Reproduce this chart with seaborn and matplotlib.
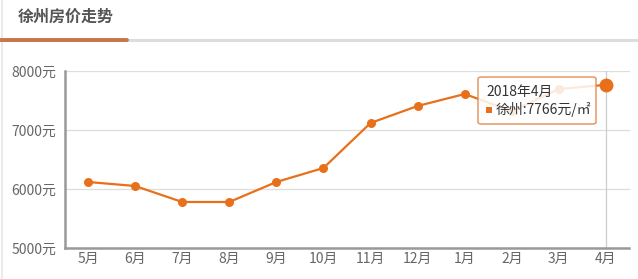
import matplotlib
matplotlib.use("Agg")
import matplotlib.pyplot as plt
import seaborn as sns
import pandas as pd
from matplotlib.patches import FancyBboxPatch, Rectangle
from matplotlib.lines import Line2D

months = ["5月", "6月", "7月", "8月", "9月", "10月", "11月", "12月", "1月", "2月", "3月", "4月"]
prices = [6119, 6051, 5780, 5780, 6119, 6356, 7119, 7407, 7610, 7320, 7695, 7766]
y_ticks = [5000, 6000, 7000, 8000]
y_labels = ["5000元", "6000元", "7000元", "8000元"]
title = "徐州房价走势"
tip_title = "2018年4月"
tip_text = "徐州:7766元/㎡"

sns.set_style("white")
plt.rcParams["font.family"] = ["Noto Sans CJK SC", "DejaVu Sans"]

W, H = 638, 279
fig = plt.figure(figsize=(W / 100, H / 100), dpi=100)
fig.patch.set_facecolor("white")

def fx(px):
    return px / W

def fy(py):
    return 1 - py / H

# frame / header decorations
fig.add_artist(Line2D([fx(1.5), fx(1.5)], [0, 1], color="#e6e6e6", lw=1.2))
fig.add_artist(Line2D([0, 1], [fy(40), fy(40)], color="#dddddd", lw=2.2))
fig.add_artist(Line2D([0, fx(127)], [fy(40), fy(40)], color="#c8754a", lw=2.8))
fig.text(fx(18), fy(17), title, fontsize=11.5, fontweight="bold", color="#555555",
         va="center", ha="left")

ax = fig.add_axes([fx(64.5), fy(248), fx(629.5 - 64.5), (248 - 71) / H])
df = pd.DataFrame({"month": months, "price": prices})
orange = "#e8701a"
sns.lineplot(data=df, x="month", y="price", ax=ax, color=orange, lw=1.6,
             marker="o", markersize=6.5, markeredgewidth=0, sort=False)
ax.plot([len(months) - 1], [prices[-1]], "o", color=orange, markersize=10, markeredgewidth=0, zorder=5)

ax.set_xlim(-0.5, len(months) - 0.5)
ax.set_ylim(5000, 8000)
ax.set_yticks(y_ticks)
ax.set_yticklabels(y_labels)
ax.set_xlabel("")
ax.set_ylabel("")
ax.grid(axis="y", color="#dddddd", lw=0.9)
ax.set_axisbelow(True)
for s in ["top", "right"]:
    ax.spines[s].set_visible(False)
ax.spines["left"].set_color("#999999")
ax.spines["left"].set_linewidth(1.8)
ax.spines["bottom"].set_color("#999999")
ax.spines["bottom"].set_linewidth(1.8)
ax.tick_params(axis="both", length=0, labelsize=10, colors="#666666")
ax.tick_params(axis="y", pad=6)
ax.tick_params(axis="x", pad=3)

# hover crosshair
ax.axvline(len(months) - 1, color="#cccccc", lw=0.9, zorder=1)

# tooltip
box = FancyBboxPatch((fx(478), fy(124)), fx(596 - 478), (124 - 77) / H,
                     boxstyle="round,pad=0,rounding_size=0.006",
                     transform=fig.transFigure, facecolor="white", alpha=0.85,
                     edgecolor="#e0884a", lw=1.1, zorder=10)
fig.add_artist(box)
fig.text(fx(486), fy(92), tip_title, fontsize=10, color="#333333", va="center", ha="left", zorder=11)
fig.add_artist(Rectangle((fx(486), fy(113)), fx(6), 6 / H, transform=fig.transFigure,
                         facecolor=orange, edgecolor="none", zorder=11))
fig.text(fx(496), fy(109), tip_text, fontsize=10, color="#333333", va="center", ha="left", zorder=11)

fig.savefig("out.png", dpi=100, facecolor="white")
